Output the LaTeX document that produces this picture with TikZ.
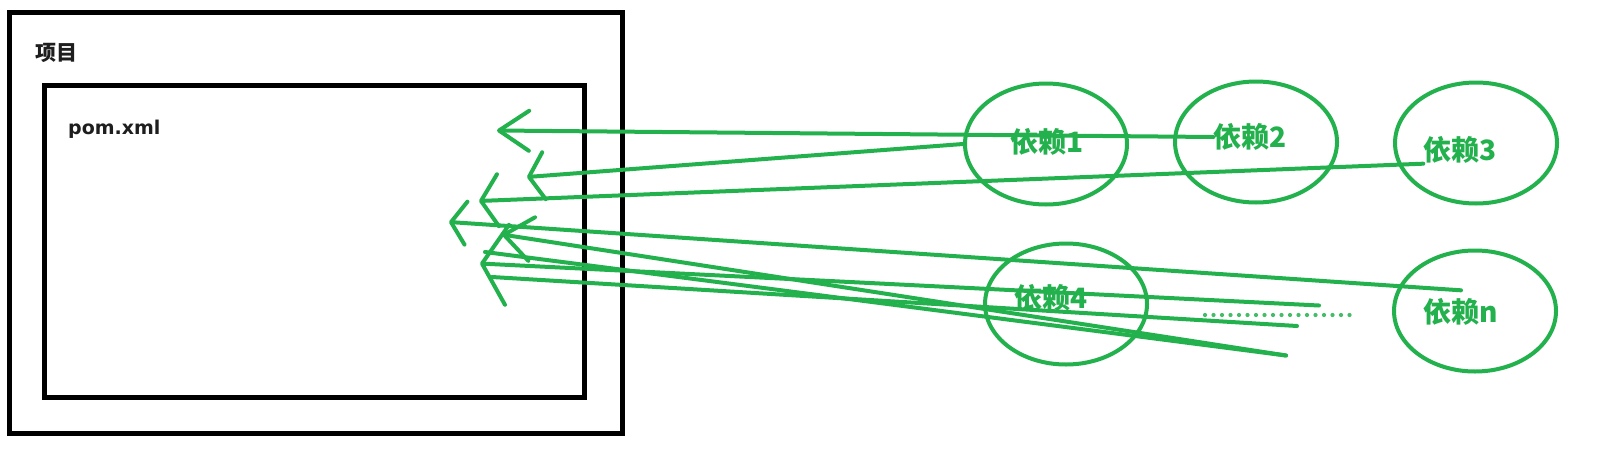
\documentclass[tikz,border=0pt]{standalone}
\usepackage{fontspec}
\setmainfont{Noto Sans CJK SC}
\newfontfamily\pomfont{DejaVu Sans}
\usetikzlibrary{arrows.meta,shapes.geometric}
\definecolor{Ink}{HTML}{1E1E1E}
\definecolor{DepGreen}{HTML}{22B14C}
\tikzset{
  box/.style={draw=black,line width=5pt,inner sep=0pt},
  dep/.style={ellipse,draw=DepGreen,line width=4pt,inner sep=0pt,
              minimum width=162pt,minimum height=121pt},
  deplabel/.style={inner sep=0pt,text=DepGreen,
                   font=\bfseries\fontsize{28}{30}\selectfont},
  link/.style={DepGreen,line width=4pt,line cap=round},
  barb/.style args={#1/#2}{link,-{Straight Barb[round,length=#1pt,width=#2pt]}},
  dotrow/.style={DepGreen!85,line width=4.2pt,line cap=round,dash pattern=on 0pt off 8.5pt}
}
\newcommand{\depbubble}[4]{%
  \node[dep] (e#1) at (#2) {};
  \node[deplabel] (t#1) at (#3) {#4};
}

\begin{document}
\begin{tikzpicture}[x=1pt,y=-1pt]
  \useasboundingbox (0,0) rectangle (1619,455);
  \fill[white] (0,0) rectangle (1619,455);

  \node[box,minimum width=613pt,minimum height=421pt] (proj) at (315.5,223) {};
  \node[box,minimum width=540pt,minimum height=312pt] (pom) at (314.3,241.5) {};
  \node[anchor=west,inner sep=0pt,text=Ink,font=\bfseries\fontsize{21}{23}\selectfont]
    (projlabel) at (35,53) {项目};
  \node[anchor=base west,inner sep=0pt,text=Ink,font=\pomfont\bfseries\fontsize{19}{21}\selectfont]
    (pomlabel) at (68,134) {pom.xml};

  \depbubble{1}{1046,144}{1047,142}{依赖1}
  \depbubble{2}{1256,142}{1250,137}{依赖2}
  \depbubble{3}{1476,143}{1460,150}{依赖3}
  \depbubble{4}{1066,304}{1051,298}{依赖4}
  \depbubble{n}{1475,311}{1461,312}{依赖n}
  \draw[dotrow] (1205,315) -- (1350,315);

  \coordinate (p1) at (497,130.5);
  \coordinate (p2) at (527,177);
  \coordinate (p3) at (479,201);
  \coordinate (p4) at (449,222);
  \coordinate (p5) at (502,234.5);
  \coordinate (pa) at (485,252);
  \coordinate (pb) at (480,263.5);
  \coordinate (pc) at (492,277);
  \coordinate (r1) at (1319,305.5);
  \coordinate (r2) at (1297,326);
  \coordinate (r3) at (1286,355.5);

  \draw[barb=30/40] (t2.west) -- (p1);
  \draw[barb=15/47] (e1.west) -- (p2);
  \draw[barb=17/52] (t3.south west) -- (p3);
  \draw[barb=15/43] ([yshift=8pt]tn.north) -- (p4);
  \draw[barb=28/44] (r3) -- (p5);
  \draw[link] (r3) -- (pa);
  \draw[barb=25/80] (r1) -- (pb);
  \draw[link] (r2) -- (pc);
\end{tikzpicture}
\end{document}
